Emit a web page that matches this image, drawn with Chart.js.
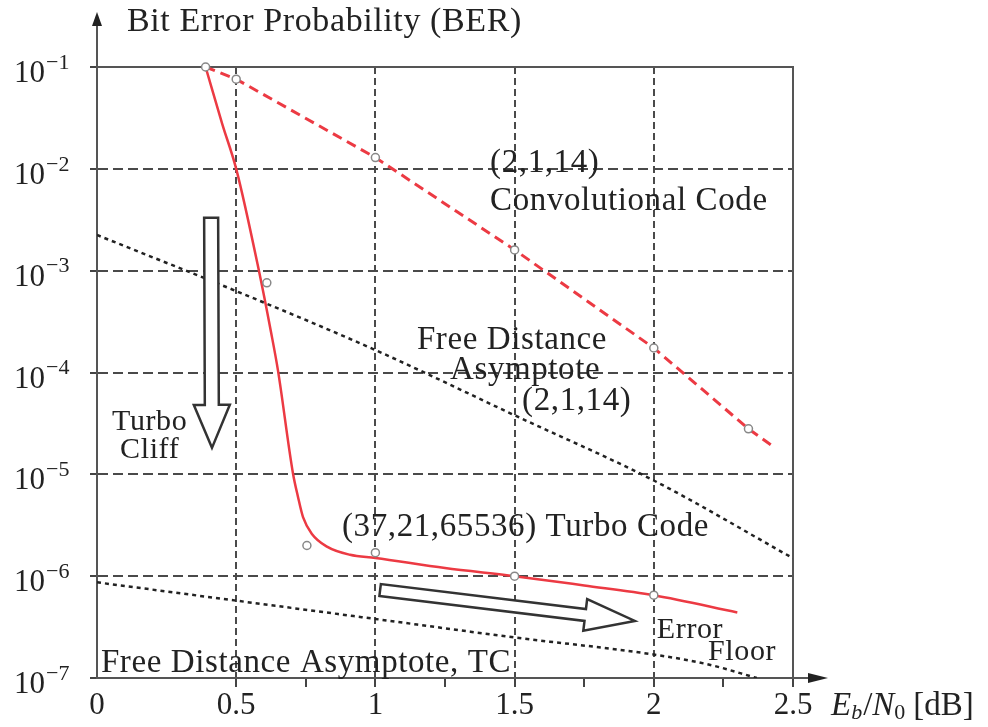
<!DOCTYPE html>
<html><head><meta charset="utf-8">
<script src="https://cdn.jsdelivr.net/npm/chart.js@4.4.0/dist/chart.umd.min.js"></script>
<style>html,body{margin:0;padding:0;background:#fff;}#wrap{width:988px;height:727px;}</style>
</head><body><div id="wrap"><canvas id="c" width="988" height="727"></canvas></div>
<script>
// ---- data (Eb/N0 in dB, BER) ----
const turboX   = [0.39, 0.45, 0.50, 0.58, 0.625, 0.65, 0.704, 0.722, 0.74, 0.772, 0.826, 0.909, 1.0, 1.25, 1.5, 1.75, 2.0, 2.3];
const turboBER = [1e-1, 2.75e-2, 1e-2, 1.05e-3, 2.5e-4, 1.05e-4, 1.02e-5, 6.0e-6, 3.8e-6, 2.6e-6, 1.95e-6, 1.62e-6, 1.51e-6, 1.2e-6, 1.0e-6, 8.1e-7, 6.5e-7, 4.4e-7];
const turboMarkX   = [0.39, 0.61, 0.754, 1.0, 1.5, 2.0];
const turboMarkBER = [1e-1, 7.6e-4, 2.0e-6, 1.7e-6, 1.0e-6, 6.5e-7];
const convX   = [0.39, 0.5, 1.0, 1.5, 2.0, 2.34, 2.42];
const convBER = [1e-1, 7.6e-2, 1.29e-2, 1.6e-3, 1.74e-4, 2.8e-5, 1.95e-5];
const convMarkX   = [0.5, 1.0, 1.5, 2.0, 2.34];
const convMarkBER = [7.6e-2, 1.29e-2, 1.6e-3, 1.74e-4, 2.8e-5];
const asymConvX   = [0, 0.5, 1.0, 1.5, 2.0, 2.5];
const asymConvBER = [2.24e-3, 6.3e-4, 1.66e-4, 3.8e-5, 8.7e-6, 1.5e-6];
const asymTCX   = [0, 0.5, 1.0, 1.5, 2.0, 2.2, 2.37];
const asymTCBER = [8.7e-7, 5.75e-7, 3.8e-7, 2.5e-7, 1.7e-7, 1.35e-7, 1.0e-7];
const xTickValues = [0, 0.5, 0.75, 1, 1.25, 1.5, 1.75, 2, 2.25, 2.5];
const xTickLabels = {0: '0', 0.5: '0.5', 1: '1', 1.5: '1.5', 2: '2', 2.5: '2.5'};
const yTickExponents = [-1, -2, -3, -4, -5, -6, -7];
const yTickBase = '10';
const yTickSup = ['\u22121', '\u22122', '\u22123', '\u22124', '\u22125', '\u22126', '\u22127'];
const titleText = 'Bit Error Probability (BER)';
// annotation labels: [text, x (dB), log10(BER) of text middle, font size]
const notes = [
  ['(2,1,14)', 1.412, -1.943, 33],
  ['Convolutional Code', 1.412, -2.316, 33],
  ['Free Distance', 1.149, -3.681, 33],
  ['Asymptote', 1.268, -3.976, 33],
  ['(2,1,14)', 1.527, -4.28, 33],
  ['(37,21,65536) Turbo Code', 0.880, -5.517, 33],
  ['Turbo', 0.054, -4.486, 30],
  ['Cliff', 0.083, -4.761, 30],
  ['Error', 2.011, -6.529, 30],
  ['Floor', 2.195, -6.745, 30],
  ['Free Distance Asymptote, TC', 0.014, -6.853, 33]
];
// hollow arrows: tail (dB, log10 BER) -> tip (dB, log10 BER)
const arrows = [
  {from: [0.41, -2.48], to: [0.413, -4.74], shaft: 7, head: 18, headLen: 43},
  {from: [1.017, -6.136], to: [1.932, -6.44], shaft: 6, head: 16, headLen: 50}
];

const FONT = '"Liberation Serif", "DejaVu Serif", serif';
const RED = '#ec3a43';
const pts = (xs, ys) => xs.map((x, i) => ({x: x, y: ys[i]}));

const decor = {
  id: 'decor',
  beforeDatasetsDraw(chart) {
    const {ctx, chartArea: a} = chart;
    ctx.save();
    ctx.strokeStyle = '#555'; ctx.lineWidth = 2;
    ctx.beginPath();
    ctx.moveTo(a.left, a.top); ctx.lineTo(a.right, a.top); ctx.lineTo(a.right, a.bottom);
    ctx.stroke();
    ctx.restore();
  },
  afterDatasetsDraw(chart) {
    const {ctx, chartArea: a} = chart;
    const xs = chart.scales.x, ys = chart.scales.y;
    ctx.save();
    // hollow arrows
    arrows.forEach(ar => {
      const x1 = xs.getPixelForValue(ar.from[0]), y1 = ys.getPixelForValue(Math.pow(10, ar.from[1]));
      const x2 = xs.getPixelForValue(ar.to[0]), y2 = ys.getPixelForValue(Math.pow(10, ar.to[1]));
      const dx = x2 - x1, dy = y2 - y1, L = Math.hypot(dx, dy);
      const ux = dx / L, uy = dy / L, nx = -uy, ny = ux;
      const bx = x2 - ux * ar.headLen, by = y2 - uy * ar.headLen;
      ctx.beginPath();
      ctx.moveTo(x1 + nx * ar.shaft, y1 + ny * ar.shaft);
      ctx.lineTo(bx + nx * ar.shaft, by + ny * ar.shaft);
      ctx.lineTo(bx + nx * ar.head, by + ny * ar.head);
      ctx.lineTo(x2, y2);
      ctx.lineTo(bx - nx * ar.head, by - ny * ar.head);
      ctx.lineTo(bx - nx * ar.shaft, by - ny * ar.shaft);
      ctx.lineTo(x1 - nx * ar.shaft, y1 - ny * ar.shaft);
      ctx.closePath();
      ctx.fillStyle = '#fff'; ctx.fill();
      ctx.strokeStyle = '#333'; ctx.lineWidth = 2.5; ctx.lineJoin = 'miter'; ctx.stroke();
    });
    // axis arrows
    ctx.strokeStyle = '#555'; ctx.fillStyle = '#222'; ctx.lineWidth = 2;
    ctx.beginPath(); ctx.moveTo(a.left, a.top); ctx.lineTo(a.left, 24); ctx.stroke();
    ctx.beginPath(); ctx.moveTo(a.left, 12); ctx.lineTo(a.left - 5, 26); ctx.lineTo(a.left + 5, 26); ctx.closePath(); ctx.fill();
    ctx.beginPath(); ctx.moveTo(a.right, a.bottom); ctx.lineTo(810, a.bottom); ctx.stroke();
    ctx.beginPath(); ctx.moveTo(828, a.bottom); ctx.lineTo(808, a.bottom - 5); ctx.lineTo(808, a.bottom + 5); ctx.closePath(); ctx.fill();
    // texts
    ctx.fillStyle = '#222';
    ctx.textBaseline = 'middle'; ctx.textAlign = 'left';
    ctx.letterSpacing = '0.6px';
    ctx.font = '34px ' + FONT;
    ctx.fillText(titleText, 127, 22);
    notes.forEach(n => {
      ctx.font = n[3] + 'px ' + FONT;
      ctx.fillText(n[0], xs.getPixelForValue(n[1]), ys.getPixelForValue(Math.pow(10, n[2])));
    });
    ctx.letterSpacing = '0px';
    // y tick labels 10^e
    yTickExponents.forEach((e, i) => {
      const y = ys.getPixelForValue(Math.pow(10, e));
      ctx.font = '31px ' + FONT; ctx.textAlign = 'right';
      ctx.fillText(yTickBase, 45, y + 7);
      ctx.font = '22px ' + FONT; ctx.textAlign = 'left';
      ctx.fillText(yTickSup[i], 46, y - 4);
    });
    // x axis title  E_b/N_0 [dB]
    let x = 831; const yb = 706;
    ctx.textAlign = 'left';
    ctx.font = 'italic 33px ' + FONT; ctx.fillText('E', x, yb); x += ctx.measureText('E').width;
    ctx.font = 'italic 22px ' + FONT; ctx.fillText('b', x, yb + 7); x += ctx.measureText('b').width + 1;
    ctx.font = '33px ' + FONT; ctx.fillText('/', x, yb); x += ctx.measureText('/').width;
    ctx.font = 'italic 33px ' + FONT; ctx.fillText('N', x, yb); x += ctx.measureText('N').width;
    ctx.font = '22px ' + FONT; ctx.fillText('0', x, yb + 7); x += ctx.measureText('0').width + 8;
    ctx.font = '33px ' + FONT; ctx.fillText('[dB]', x, yb);
    ctx.restore();
  }
};

new Chart(document.getElementById('c'), {
  type: 'line',
  data: {
    datasets: [
      {data: pts(turboMarkX, turboMarkBER), showLine: false, pointRadius: 4, pointBorderWidth: 1.5,
       pointBackgroundColor: '#fff', pointBorderColor: '#888', clip: false},
      {data: pts(convMarkX, convMarkBER), showLine: false, pointRadius: 4, pointBorderWidth: 1.5,
       pointBackgroundColor: '#fff', pointBorderColor: '#888', clip: false},
      {data: pts(turboX, turboBER), borderColor: RED, borderWidth: 2.5, pointRadius: 0,
       cubicInterpolationMode: 'monotone'},
      {data: pts(convX, convBER), borderColor: RED, borderWidth: 3, borderDash: [10, 6], pointRadius: 0, tension: 0},
      {data: pts(asymConvX, asymConvBER), borderColor: '#222', borderWidth: 2.5, borderDash: [4, 4], pointRadius: 0,
       cubicInterpolationMode: 'monotone'},
      {data: pts(asymTCX, asymTCBER), borderColor: '#222', borderWidth: 2.5, borderDash: [4, 4], pointRadius: 0,
       cubicInterpolationMode: 'monotone'}
    ]
  },
  options: {
    responsive: false, animation: false, devicePixelRatio: 1,
    layout: {padding: {left: 0, top: 67, right: 195, bottom: 0}},
    plugins: {legend: {display: false}, tooltip: {enabled: false}},
    scales: {
      x: {
        type: 'linear', min: 0, max: 2.5,
        afterBuildTicks: s => { s.ticks = xTickValues.map(v => ({value: v})); },
        afterFit: s => { s.height = 49; },
        ticks: {autoSkip: false, maxRotation: 0, padding: 0, color: '#222',
                font: {family: FONT, size: 31},
                callback: v => (xTickLabels[v] !== undefined ? xTickLabels[v] : '')},
        grid: {
          color: c => (c.tick && [0.5, 1, 1.5, 2].includes(c.tick.value) ? '#4a4a4a' : 'rgba(0,0,0,0)'),
          tickColor: c => (c.tick && c.tick.value === 0 ? 'rgba(0,0,0,0)' : '#444'),
          lineWidth: 2, tickWidth: 2, tickLength: 9
        },
        border: {display: true, color: '#555', width: 2, dash: [7, 4]}
      },
      y: {
        type: 'logarithmic', min: 1e-7, max: 1e-1,
        afterBuildTicks: s => { s.ticks = yTickExponents.map(e => ({value: Math.pow(10, e)})); },
        afterFit: s => { s.width = 97; },
        ticks: {display: false},
        grid: {
          color: c => (c.tick && c.tick.value < 0.05 && c.tick.value > 5e-7 ? '#4a4a4a' : 'rgba(0,0,0,0)'),
          tickColor: '#444', lineWidth: 2, tickWidth: 2, tickLength: 7
        },
        border: {display: true, color: '#555', width: 2, dash: [10, 5]}
      }
    }
  },
  plugins: [decor]
});
</script>
</body></html>
